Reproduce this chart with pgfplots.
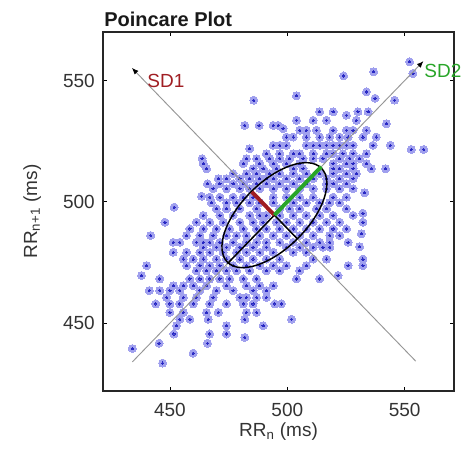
\documentclass[border=0pt]{standalone}
\usepackage{pgfplots}
\pgfplotsset{compat=1.18}
\usepackage{pgfplotstable}
\usepackage{fontspec}
\setmainfont{Liberation Sans}
\usetikzlibrary{arrows.meta}
\definecolor{ptlight}{RGB}{160,160,238}
\definecolor{ptdark}{RGB}{40,40,195}
\definecolor{sdred}{RGB}{160,30,35}
\definecolor{sdgreen}{RGB}{40,165,40}
\definecolor{refgray}{RGB}{150,150,150}

\pgfplotstableread{
x y
552.1 557.7
553.5 552.9
536.8 553.6
524.0 551.9
533.7 545.3
537.4 542.7
503.9 543.7
485.7 541.9
545.7 541.9
513.8 537.1
519.5 537.1
530.1 537.1
534.4 537.1
525.2 535.7
481.9 531.5
488.0 531.5
494.0 531.5
496.1 531.5
498.2 530.2
503.9 533.6
511.0 533.6
516.7 533.6
529.4 533.6
542.2 532.2
505.3 529.5
508.1 529.5
512.4 529.5
519.5 529.5
525.2 529.5
528.0 529.5
533.7 529.5
537.9 526.7
499.6 526.7
502.5 526.7
508.1 526.7
513.8 526.7
518.1 526.7
522.3 526.7
525.9 526.7
532.2 526.7
484.0 521.9
494.0 523.3
496.8 523.3
499.6 523.3
508.1 523.3
511.0 523.3
513.8 523.3
516.7 523.3
519.5 523.3
522.3 523.3
525.2 523.3
528.0 523.3
536.5 523.3
543.9 523.3
552.8 521.6
558.1 521.6
491.1 519.8
496.8 519.8
502.5 519.8
505.3 519.8
511.0 519.8
516.7 519.8
519.5 519.8
523.7 519.8
528.0 519.8
533.7 519.8
463.7 517.8
482.6 517.8
486.9 517.8
492.5 517.8
496.8 517.8
501.0 517.8
506.7 517.8
511.0 517.8
515.2 517.8
522.3 517.8
526.6 517.8
530.8 517.8
464.2 515.7
481.2 515.7
488.3 515.7
494.0 515.7
499.6 515.7
505.3 515.7
519.5 515.7
525.2 515.7
528.0 515.7
533.7 515.7
465.6 513.6
485.4 513.6
489.7 513.6
495.4 513.6
502.5 513.6
506.7 513.6
519.5 513.6
522.3 513.6
528.0 513.6
535.8 513.6
541.9 513.6
476.9 511.6
482.6 511.6
486.9 511.6
492.5 511.6
496.8 511.6
502.5 511.6
508.1 511.6
513.8 511.6
519.5 511.6
525.2 511.6
529.4 511.6
470.6 509.5
474.1 509.5
479.8 509.5
484.0 509.5
488.3 509.5
491.1 509.5
494.0 509.5
499.6 509.5
505.3 509.5
511.0 509.5
516.7 509.5
522.3 509.5
528.0 509.5
466.0 507.4
471.3 507.4
476.9 507.4
481.2 507.4
486.9 507.4
491.1 507.4
496.8 507.4
502.5 507.4
508.1 507.4
516.7 507.4
519.5 507.4
525.2 507.4
468.4 505.4
474.1 505.4
479.8 505.4
484.0 505.4
488.3 505.4
494.0 505.4
499.6 505.4
505.3 505.4
511.0 505.4
516.7 505.4
522.3 505.4
528.0 505.4
533.0 503.7
463.5 502.3
467.0 501.9
471.3 501.9
476.9 501.9
481.2 501.9
485.4 501.9
494.0 501.9
499.6 501.9
505.3 501.9
511.0 501.9
519.5 501.9
525.2 501.9
451.8 497.8
467.7 499.6
474.1 499.6
478.4 499.6
484.0 499.6
488.3 499.6
494.0 499.6
502.5 499.6
508.1 499.6
513.8 499.6
518.1 499.6
522.3 499.6
469.8 497.1
474.1 497.1
479.8 497.1
486.9 497.1
496.8 497.1
501.0 497.1
505.3 497.1
512.4 497.1
516.7 497.1
525.2 497.1
532.2 495.3
464.2 494.4
471.3 494.4
476.9 494.4
484.0 494.4
488.3 494.4
491.1 494.4
496.8 494.4
502.5 494.4
508.1 494.4
513.8 494.4
519.5 494.4
528.0 494.4
447.9 491.6
461.3 491.6
467.0 491.6
472.7 491.6
479.8 491.6
485.4 491.6
489.7 491.6
495.4 491.6
499.6 491.6
505.3 491.6
511.0 491.6
516.7 491.6
522.3 491.6
532.2 491.6
458.5 488.8
464.2 488.8
469.8 488.8
475.5 488.8
481.2 488.8
486.9 488.8
491.1 488.8
496.8 488.8
502.5 488.8
508.1 488.8
513.8 488.8
519.5 488.8
525.2 488.8
441.8 486.1
457.1 486.1
462.8 486.1
468.4 486.1
474.1 486.1
478.4 486.1
482.6 486.1
488.3 486.1
494.0 486.1
499.6 486.1
505.3 486.1
511.0 486.1
518.1 486.1
522.3 486.1
531.5 486.8
451.4 483.3
454.2 483.3
461.3 483.3
464.2 483.3
467.0 483.3
471.3 483.3
476.9 483.3
482.6 483.3
486.9 483.3
491.1 483.3
496.8 483.3
502.5 483.3
508.1 483.3
513.8 483.3
518.1 483.3
525.9 483.3
530.8 481.5
464.2 481.3
469.8 481.3
474.1 481.3
479.8 481.3
485.4 481.3
491.1 481.3
499.6 481.3
505.3 481.3
511.0 481.3
515.2 481.3
518.1 481.3
451.4 479.2
457.1 479.2
462.8 479.2
467.0 479.2
472.7 479.2
478.4 479.2
482.6 479.2
488.3 479.2
494.0 479.2
502.5 479.2
508.1 479.2
455.7 476.4
459.9 476.4
464.2 476.4
469.8 476.4
474.1 476.4
479.8 476.4
485.4 476.4
491.1 476.4
496.8 476.4
511.0 476.4
516.7 476.4
532.2 476.4
440.1 473.7
457.1 473.7
462.8 473.7
467.0 473.7
471.3 473.7
476.9 473.7
482.6 473.7
488.3 473.7
494.0 473.7
499.6 473.7
508.1 473.7
525.9 473.7
532.2 473.7
437.9 469.6
461.3 471.6
465.6 471.6
469.8 471.6
474.1 471.6
478.4 471.6
484.0 471.6
491.1 471.6
496.8 471.6
505.3 471.6
521.6 469.6
445.7 468.2
458.5 468.2
462.8 468.2
467.0 468.2
471.3 468.2
475.5 468.2
481.2 468.2
486.9 468.2
503.9 468.2
513.8 468.2
451.4 465.4
455.7 465.4
459.9 465.4
465.6 465.4
474.1 465.4
482.6 465.4
488.3 465.4
494.0 465.4
441.2 463.4
445.7 463.4
450.0 463.4
454.2 463.4
462.8 463.4
469.8 463.4
476.9 463.4
485.4 463.4
491.1 463.4
448.6 460.6
455.7 460.6
461.3 460.6
468.4 460.6
479.8 460.6
482.6 460.6
486.9 460.6
491.1 460.6
444.0 457.9
450.0 457.9
454.2 457.9
459.9 457.9
467.0 457.9
474.1 457.9
481.2 457.9
485.4 457.9
494.7 457.9
497.5 457.9
450.0 454.4
455.7 454.4
465.6 454.4
470.6 454.4
482.6 454.4
486.9 454.4
454.2 451.6
458.5 451.6
466.3 451.6
481.9 451.6
501.8 451.6
452.8 448.9
474.1 448.9
489.7 448.9
451.7 445.5
467.0 445.5
474.1 445.5
481.9 444.1
445.4 441.7
466.0 441.7
434.0 439.5
459.9 437.6
446.9 433.5
}\pts

\begin{document}
\fontsize{14.25pt}{17pt}\selectfont
\begin{tikzpicture}
\useasboundingbox (0,0) rectangle (353.25pt,340.5pt);
\begin{axis}[
  at={(77.25pt,47.25pt)}, anchor=south west, scale only axis,
  width=263.25pt, height=269.25pt,
  xmin=421.5, xmax=571, ymin=422, ymax=570,
  xtick={450,500,550}, ytick={450,500,550},
  tick align=inside, major tick length=3pt,
  axis line style={line width=0.8pt, black!85},
  every tick/.style={black, line width=0.6pt},
  tick label style={font=\fontsize{14.25pt}{17pt}\selectfont, text=black!80},
  /pgf/number format/assume math mode=true,
  xticklabel style={anchor=base, yshift=-19.3pt},
  yticklabel style={xshift=-1.25pt},
  label style={font=\fontsize{14.25pt}{17pt}\selectfont, text=black!80},
  xlabel={RR\textsubscript{n} (ms)},
  ylabel={RR\textsubscript{n+1} (ms)},
  xlabel style={at={(axis description cs:0.5,-0.1281)}, anchor=base},
  ylabel style={at={(axis description cs:-0.188,0.5)}, anchor=base},
  clip=false, clip marker paths=true,
]
\addplot[only marks, color=ptlight, mark=*, mark size=3.0pt, mark options={draw=ptlight, fill=ptlight, line width=0pt}] table {\pts};
\addplot[only marks, color=ptdark, mark=*, mark size=0.85pt, mark options={draw=ptdark, fill=ptdark, line width=0pt}] table {\pts};
\addplot[refgray, line width=0.7pt, -{Latex[length=5pt,width=4pt,black]}] coordinates {(434,434) (558,558)};
\addplot[refgray, line width=0.7pt, -{Latex[length=5pt,width=4pt,black]}] coordinates {(554.7,434.3) (433.8,555.2)};
\draw[black, line width=1.1pt, rotate around={45:(axis cs:494.5,494.5)}] (axis cs:494.5,494.5) ellipse [x radius=28.3, y radius=13.6];
\addplot[black, line width=1.1pt] coordinates {(474.5,474.5) (494.5,494.5) (504.1,484.9)};
\addplot[sdred, line width=2.9pt] coordinates {(494.5,494.5) (484.9,504.1)};
\addplot[sdgreen, line width=2.9pt] coordinates {(494.5,494.5) (514.5,514.5)};
\node[anchor=base west, inner sep=0pt, text=sdred] at (axis cs:440.3,547.3) {SD1};
\node[anchor=base west, inner sep=0pt, text=sdgreen] at (axis cs:558.3,551.1) {SD2};
\end{axis}
\node[anchor=base west, inner sep=0pt, font=\bfseries\fontsize{15pt}{18pt}\selectfont, text=black!90] at (78pt,320.25pt) {Poincare Plot};
\end{tikzpicture}
\end{document}
